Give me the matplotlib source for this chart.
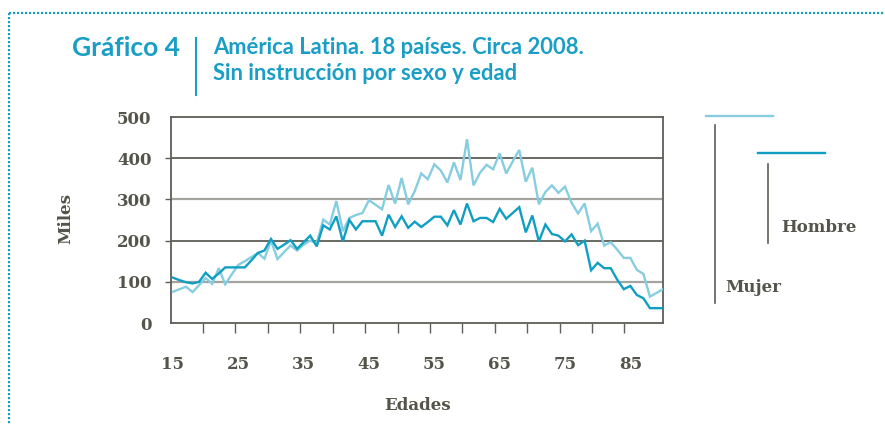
import matplotlib
matplotlib.use("Agg")
import matplotlib.pyplot as plt
from matplotlib.lines import Line2D
import numpy as np

# ---------------- data ----------------
ages = list(range(15, 91))

mujer = [76, 82, 88, 75, 92, 109, 95, 133, 94, 118,
         141, 150, 160, 170, 156, 200, 155, 172, 188, 176,
         190, 200, 194, 251, 239, 296, 223, 255, 262, 267,
         298, 287, 276, 335, 290, 352, 288, 320, 363, 349,
         385, 370, 341, 390, 347, 446, 334, 365, 384, 373,
         412, 363, 392, 420, 343, 377, 288, 318, 334, 316,
         331, 292, 266, 290, 223, 241, 188, 196, 178, 158,
         158, 129, 119, 64, 73, 82]

hombre = [110, 104, 99, 96, 100, 122, 107, 120, 135, 135,
          135, 135, 152, 170, 176, 204, 180, 190, 201, 180,
          196, 212, 186, 237, 227, 259, 198, 250, 227, 247,
          247, 247, 212, 263, 233, 259, 231, 246, 233, 245,
          258, 258, 237, 274, 239, 290, 247, 255, 255, 245,
          277, 253, 267, 281, 220, 261, 198, 239, 216, 212,
          198, 215, 189, 200, 128, 146, 133, 133, 105, 82,
          90, 68, 60, 36, 36, 36]

yticks = [0, 100, 200, 300, 400, 500]
xlabels = [15, 25, 35, 45, 55, 65, 75, 85]

title_num = "Gráfico 4"
title_l1 = "América Latina. 18 países. Circa 2008."
title_l2 = "Sin instrucción por sexo y edad"

# ---------------- style ----------------
C_MUJER = "#86CDE0"
C_HOMBRE = "#109FC2"
C_TEAL = "#1A9EC6"
C_TEXT = "#54544B"
C_GRID_D = "#5E5E57"
C_GRID_L = "#A4A39E"
SERIF = "DejaVu Serif"

W, H = 885, 425
fig = plt.figure(figsize=(W / 100, H / 100), dpi=100)

def fx(px):
    return px / W

def fy(py):
    return 1 - py / H

ax = fig.add_axes([fx(171), fy(323), fx(663) - fx(171), fy(117) - fy(323)])

ax.plot(ages, mujer, color=C_MUJER, lw=1.7, zorder=3, solid_joinstyle="miter")
ax.plot(ages, hombre, color=C_HOMBRE, lw=1.7, zorder=4, solid_joinstyle="miter")

ax.set_xlim(14.7, 90)
ax.set_ylim(0, 500)

# grid lines
for v in [100, 200, 300, 400]:
    col = C_GRID_D if v in (200, 400) else C_GRID_L
    ax.axhline(v, color=col, lw=1.3 if v in (200, 400) else 1.6, zorder=1)

for s in ax.spines.values():
    s.set_color(C_GRID_D)
    s.set_linewidth(1.3)

# y ticks
ax.set_yticks(yticks)
ax.set_yticklabels([str(v) for v in yticks])
ax.tick_params(axis="y", direction="out", length=4, width=1, color=C_GRID_D,
               pad=10, labelsize=12, labelcolor=C_TEXT)
yt = ax.yaxis.get_major_ticks()
yt[0].tick1line.set_visible(False)
yt[-1].tick1line.set_visible(False)
for lab in ax.get_yticklabels():
    lab.set_fontfamily(SERIF)
    lab.set_fontweight("bold")

# x ticks: labels at ages, marks in between
ax.set_xticks(xlabels)
ax.set_xticklabels([str(v) for v in xlabels])
ax.tick_params(axis="x", which="major", length=0, pad=24, labelsize=12,
               labelcolor=C_TEXT)
ax.set_xticks(np.linspace(19.6, 84.1, 14), minor=True)
ax.tick_params(axis="x", which="minor", direction="out", length=7, width=1,
               color=C_GRID_D)
for lab in ax.get_xticklabels():
    lab.set_fontfamily(SERIF)
    lab.set_fontweight("bold")

# axis titles
fig.text(fx(65.5), fy(218), "Miles", rotation=90, ha="center", va="center",
         fontsize=12, fontweight="bold", family=SERIF, color=C_TEXT)
fig.text(fx(417), fy(405), "Edades", ha="center", va="center",
         fontsize=12, fontweight="bold", family=SERIF, color=C_TEXT)

# title block
fig.text(fx(72), fy(48), title_num, ha="left", va="center", fontsize=19,
         fontweight="bold", family="Lato", color=C_TEAL)
fig.add_artist(Line2D([fx(196), fx(196)], [fy(38), fy(95)], color=C_TEAL,
                      lw=1.5, transform=fig.transFigure))
fig.text(fx(213), fy(47), title_l1, ha="left", va="center", fontsize=15.8,
         fontweight="bold", family="Lato", color=C_TEAL)
fig.text(fx(213), fy(74), title_l2, ha="left", va="center", fontsize=15.8,
         fontweight="bold", family="Lato", color=C_TEAL)

# legend (custom)
fig.add_artist(Line2D([fx(706), fx(773)], [fy(116), fy(116)], color=C_MUJER,
                      lw=1.7, transform=fig.transFigure))
fig.add_artist(Line2D([fx(715), fx(715)], [fy(125), fy(303)], color=C_GRID_D,
                      lw=1.2, transform=fig.transFigure))
fig.text(fx(725), fy(287), "Mujer", ha="left", va="center", fontsize=12,
         fontweight="bold", family=SERIF, color=C_TEXT)
fig.add_artist(Line2D([fx(758), fx(825)], [fy(153), fy(153)], color=C_HOMBRE,
                      lw=1.7, transform=fig.transFigure))
fig.add_artist(Line2D([fx(768), fx(768)], [fy(164), fy(243)], color=C_GRID_D,
                      lw=1.2, transform=fig.transFigure))
fig.text(fx(781), fy(228), "Hombre", ha="left", va="center", fontsize=12,
         fontweight="bold", family=SERIF, color=C_TEXT)

# dotted frame
fig.add_artist(Line2D([fx(9), fx(885)], [fy(13), fy(13)], color=C_TEAL, lw=1.6,
                      linestyle=(0, (1, 0.8)), dash_capstyle="butt",
                      transform=fig.transFigure))
fig.add_artist(Line2D([fx(9), fx(9)], [fy(13), fy(425)], color=C_TEAL, lw=1.6,
                      linestyle=(0, (1, 0.8)), dash_capstyle="butt",
                      transform=fig.transFigure))

fig.savefig("out.png", dpi=100, facecolor="white")
